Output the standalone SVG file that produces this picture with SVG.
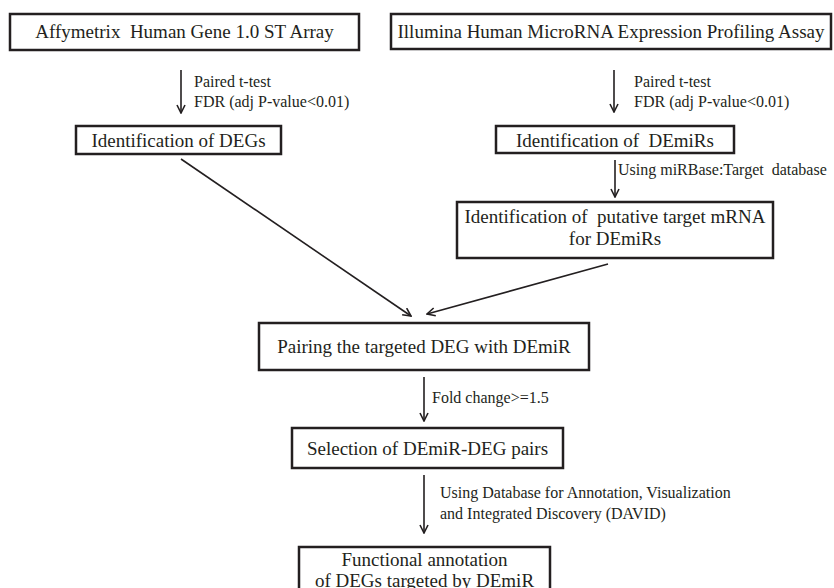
<svg xmlns="http://www.w3.org/2000/svg" width="834" height="588" viewBox="0 0 834 588">
<style>
.box{fill:#fff;stroke:#231f20;stroke-width:2.5}
.bt{font-family:"Liberation Serif","Times New Roman",serif;font-size:19px;fill:#231f20;text-anchor:middle}
.lb{font-family:"Liberation Serif","Times New Roman",serif;font-size:16px;fill:#231f20}
.cn{fill:none;stroke:#231f20;stroke-width:1.6;marker-end:url(#ah)}
</style>
<defs>
<marker id="ah" viewBox="0 0 10 10" refX="9" refY="5" markerWidth="10" markerHeight="10" markerUnits="userSpaceOnUse" orient="auto">
<path d="M1,1 L9,5 L1,9" fill="none" stroke="#231f20" stroke-width="1.6"/>
</marker>
</defs>
<rect width="834" height="588" fill="#fff"/>
<g id="connectors">
<line class="cn" x1="181" y1="70" x2="181" y2="113"/>
<line class="cn" x1="614" y1="70" x2="614" y2="112"/>
<line class="cn" x1="615" y1="160" x2="615" y2="197"/>
<line class="cn" x1="181" y1="159" x2="411" y2="316"/>
<line class="cn" x1="608" y1="264" x2="427" y2="314"/>
<line class="cn" x1="424" y1="377" x2="424" y2="421"/>
<line class="cn" x1="424" y1="475" x2="424" y2="533"/>
<text class="lb" x="194" y="87">Paired t-test</text>
<text class="lb" x="194" y="107">FDR (adj P-value&lt;0.01)</text>
<text class="lb" x="634" y="87">Paired t-test</text>
<text class="lb" x="634" y="107">FDR (adj P-value&lt;0.01)</text>
<text class="lb" x="618" y="175" xml:space="preserve">Using miRBase:Target  database</text>
<text class="lb" x="432" y="403">Fold change&gt;=1.5</text>
<text class="lb" x="440" y="498">Using Database for Annotation, Visualization</text>
<text class="lb" x="440" y="519">and Integrated Discovery (DAVID)</text>
</g>
<g id="affymetrix">
<rect class="box" x="10" y="14" width="349" height="36"/>
<text class="bt" x="184.5" y="38" xml:space="preserve">Affymetrix  Human Gene 1.0 ST Array</text>
</g>
<g id="illumina">
<rect class="box" x="391" y="14" width="440" height="35"/>
<text class="bt" x="611" y="38">Illumina Human MicroRNA Expression Profiling Assay</text>
</g>
<g id="degs">
<rect class="box" x="76" y="126" width="205" height="28"/>
<text class="bt" x="178.5" y="147">Identification of DEGs</text>
</g>
<g id="demirs">
<rect class="box" x="496" y="126" width="238" height="27"/>
<text class="bt" x="615" y="147" xml:space="preserve">Identification of  DEmiRs</text>
</g>
<g id="targets">
<rect class="box" x="457" y="202" width="316" height="56"/>
<text class="bt" x="615" y="223" xml:space="preserve">Identification of  putative target mRNA</text>
<text class="bt" x="615" y="245">for DEmiRs</text>
</g>
<g id="pairing">
<rect class="box" x="259" y="323" width="330" height="47"/>
<text class="bt" x="424" y="353">Pairing the targeted DEG with DEmiR</text>
</g>
<g id="selection">
<rect class="box" x="292" y="428" width="271" height="40"/>
<text class="bt" x="427.5" y="455">Selection of DEmiR-DEG pairs</text>
</g>
<g id="functional">
<rect class="box" x="299" y="547" width="251" height="50"/>
<text class="bt" x="424.5" y="566">Functional annotation</text>
<text class="bt" x="424.5" y="587">of DEGs targeted by DEmiR</text>
</g>
</svg>
